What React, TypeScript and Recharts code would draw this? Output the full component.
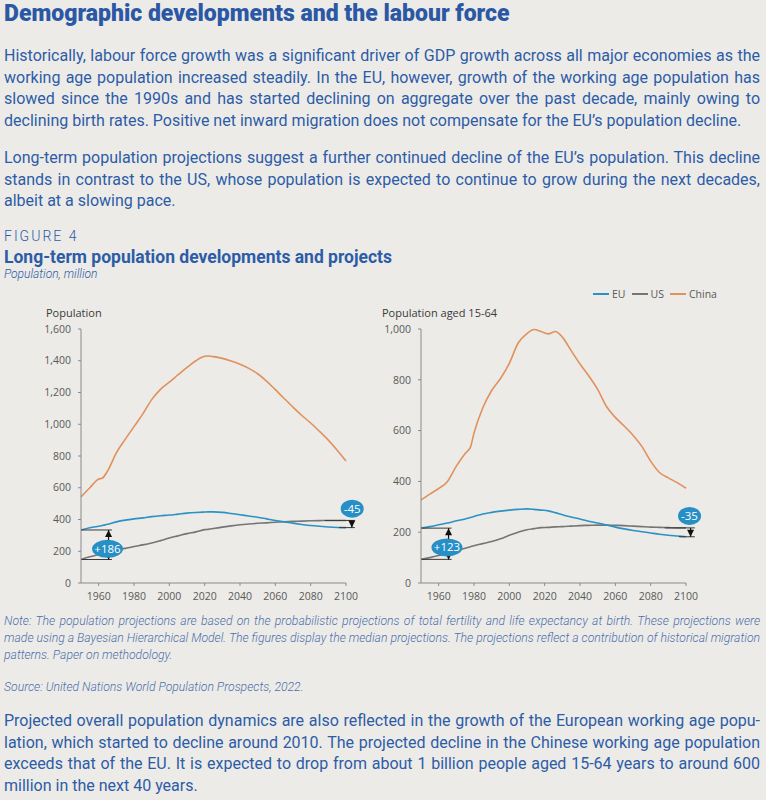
import React from "react";
import { LineChart, Line, XAxis, YAxis, ReferenceLine, ReferenceDot } from "recharts";

// total population, million
const yearsTotal = [1950, 1955, 1960, 1962, 1965, 1970, 1975, 1980, 1985, 1990, 1995, 2000, 2005, 2010, 2015, 2020, 2022, 2025, 2030, 2035, 2040, 2045, 2050, 2055, 2060, 2065, 2070, 2075, 2080, 2085, 2090, 2095, 2100];
const euTotal = [334, 348, 358, 362, 370, 385, 396, 404, 410, 418, 424, 428, 434, 440, 444, 447, 448, 448, 445, 438, 430, 422, 414, 404, 394, 385, 377, 369, 362, 357, 353, 350, 349];
const usTotal = [148, 165, 180, 186, 195, 208, 218, 230, 240, 252, 267, 283, 297, 311, 322, 336, 338, 343, 352, 360, 367, 372, 376, 379, 383, 386, 388, 390, 392, 393, 394, 394, 394];
const chinaTotal = [542, 600, 655, 660, 705, 820, 905, 985, 1065, 1155, 1220, 1265, 1312, 1358, 1400, 1428, 1430, 1426, 1415, 1398, 1378, 1352, 1318, 1272, 1218, 1162, 1108, 1055, 1008, 955, 900, 836, 768];

// population aged 15-64, million
const yearsWorking = [1950, 1955, 1960, 1965, 1970, 1975, 1978, 1980, 1985, 1990, 1995, 2000, 2005, 2010, 2014, 2018, 2022, 2026, 2030, 2035, 2040, 2045, 2050, 2055, 2060, 2065, 2070, 2075, 2080, 2085, 2090, 2095, 2100];
const euWorking = [216, 222, 229, 236, 245, 252, 258, 262, 272, 278, 283, 287, 290, 292, 290, 287, 284, 277, 269, 260, 252, 243, 236, 228, 220, 213, 207, 202, 197, 192, 188, 185, 182];
const usWorking = [93, 100, 108, 117, 127, 137, 143, 147, 155, 163, 174, 188, 200, 210, 214, 218, 219, 221, 222, 224, 226, 227, 228, 228, 227, 226, 224, 222, 220, 219, 218, 217, 217];
const chinaWorking = [327, 350, 372, 400, 460, 510, 535, 590, 690, 758, 805, 865, 945, 982, 998, 990, 981, 990, 968, 915, 862, 815, 762, 695, 652, 618, 582, 538, 480, 435, 414, 395, 373];

const xTicks = [1960, 1980, 2000, 2020, 2040, 2060, 2080, 2100];
const totalTicks = [0, 200, 400, 600, 800, 1000, 1200, 1400, 1600];
const workingTicks = [0, 200, 400, 600, 800, 1000];

// where the gap markers sit (year of arrow, badge year/value)
const totalMarks = { startArrow: 1965.6, startEnd: 1967.5, startBadge: [1965, 215], endArrow: 2103.3, endBadge: [2103.5, 468] };
const workingMarks = { startArrow: 1965.6, startEnd: 1967.3, startBadge: [1964.7, 140], endArrow: 2102.6, endBadge: [2102, 264] };

const BG = "#ecebe7";
const BLUE_TEXT = "#2d5ca7";
const EU_COLOR = "#2a92c4";
const US_COLOR = "#757575";
const CHINA_COLOR = "#e0915d";
const AXIS = "#8a8a8a";
const TICK_TEXT = "#595959";
const BADGE = "#2690c6";
const MARK = "#3a3a3a";

const fmt = (v: number) => v.toLocaleString("en-US");
const signed = (v: number) => (v > 0 ? `+${v}` : `${v}`);

function build(years: number[], eu: number[], us: number[], china: number[]) {
  return years.map((year, i) => ({ year, eu: eu[i], us: us[i], china: china[i] }));
}

const arrowShape = (both: boolean) => (p: any) => {
  const { x1, y1, x2, y2 } = p;
  const dir = y2 > y1 ? 1 : -1;
  return (
    <g>
      <line x1={x1} y1={y1} x2={x2} y2={y2} stroke="#111" strokeWidth={1.2} />
      <polygon points={`${x2},${y2} ${x2 - 3.5},${y2 - dir * 7} ${x2 + 3.5},${y2 - dir * 7}`} fill="#111" />
      {both && <polygon points={`${x1},${y1} ${x1 - 2.2},${y1 + dir * 4} ${x1 + 2.2},${y1 + dir * 4}`} fill="#111" />}
    </g>
  );
};

const badgeShape = (text: string) => (p: any) => {
  const rx = text.length > 3 ? 15.5 : 11.5;
  return (
    <g>
      <ellipse cx={p.cx} cy={p.cy} rx={rx} ry={9} fill={BADGE} />
      <text x={p.cx} y={p.cy} dy="0.35em" textAnchor="middle" fill="#fff" fontSize={11.5} fontFamily="'Open Sans', sans-serif">
        {text}
      </text>
    </g>
  );
};

type Marks = typeof totalMarks;

function Panel({
  data, ticks, yMax, yAxisWidth, right, marks, first, last,
}: {
  data: any[]; ticks: number[]; yMax: number; yAxisWidth: number; right: number;
  marks: Marks; first: { eu: number; us: number }; last: { eu: number; us: number };
}) {
  const tickStyle = { fontSize: 10.5, fill: TICK_TEXT, fontFamily: "'Open Sans', sans-serif" };
  return (
    <LineChart width={yAxisWidth + 265 + right} height={310} data={data} margin={{ top: 29, right, bottom: 7, left: 0 }}>
      <XAxis
        dataKey="year" type="number" domain={[1950, 2100]} ticks={xTicks} height={20}
        tick={tickStyle} tickSize={3} tickMargin={7} stroke={AXIS} tickLine={{ stroke: AXIS }}
      />
      <YAxis
        domain={[0, yMax]} ticks={ticks} width={yAxisWidth} tickFormatter={fmt}
        tick={tickStyle} tickSize={3} tickMargin={7} stroke={AXIS} tickLine={{ stroke: AXIS }} interval={0}
      />
      <Line dataKey="china" stroke={CHINA_COLOR} strokeWidth={1.6} dot={false} activeDot={false} type="monotone" isAnimationActive={false} />
      <Line dataKey="us" stroke={US_COLOR} strokeWidth={1.6} dot={false} activeDot={false} type="monotone" isAnimationActive={false} />
      <Line dataKey="eu" stroke={EU_COLOR} strokeWidth={1.6} dot={false} activeDot={false} type="monotone" isAnimationActive={false} />

      {/* gap at start */}
      <ReferenceLine segment={[{ x: 1950, y: first.eu }, { x: marks.startEnd, y: first.eu }]} stroke={MARK} strokeWidth={1} ifOverflow="visible" />
      <ReferenceLine segment={[{ x: 1950, y: first.us }, { x: marks.startEnd, y: first.us }]} stroke={MARK} strokeWidth={1} ifOverflow="visible" />
      <ReferenceLine
        segment={[{ x: marks.startArrow, y: first.us }, { x: marks.startArrow, y: first.eu }]}
        ifOverflow="visible" shape={arrowShape(true)}
      />
      <ReferenceDot x={marks.startBadge[0]} y={marks.startBadge[1]} r={10} ifOverflow="visible" shape={badgeShape(signed(first.eu - first.us))} />

      {/* gap at end */}
      <ReferenceLine segment={[{ x: 2088, y: last.us }, { x: 2105, y: last.us }]} stroke={MARK} strokeWidth={1} ifOverflow="visible" />
      <ReferenceLine segment={[{ x: 2096, y: last.eu }, { x: 2105, y: last.eu }]} stroke={MARK} strokeWidth={1} ifOverflow="visible" />
      <ReferenceLine
        segment={[{ x: marks.endArrow, y: last.us }, { x: marks.endArrow, y: last.eu }]}
        ifOverflow="visible" shape={arrowShape(false)}
      />
      <ReferenceDot x={marks.endBadge[0]} y={marks.endBadge[1]} r={10} ifOverflow="visible" shape={badgeShape(signed(last.eu - last.us))} />
    </LineChart>
  );
}

function Lines({ lines, top, size, lh, style }: { lines: string[]; top: number; size: number; lh: number; style?: React.CSSProperties }) {
  return (
    <div style={{ position: "absolute", left: 4, top, width: 756, fontSize: size, lineHeight: `${lh}px`, ...style }}>
      {lines.map((l, i) => (
        <div key={i} style={{ whiteSpace: "nowrap", textAlign: "justify", textAlignLast: i < lines.length - 1 ? "justify" : "left" }}>{l}</div>
      ))}
    </div>
  );
}

const para1 = [
  "Historically, labour force growth was a significant driver of GDP growth across all major economies as the",
  "working age population increased steadily. In the EU, however, growth of the working age population has",
  "slowed since the 1990s and has started declining on aggregate over the past decade, mainly owing to",
  "declining birth rates. Positive net inward migration does not compensate for the EU\u2019s population decline.",
];
const para2 = [
  "Long-term population projections suggest a further continued decline of the EU\u2019s population. This decline",
  "stands in contrast to the US, whose population is expected to continue to grow during the next decades,",
  "albeit at a slowing pace.",
];
const noteLines = [
  "Note: The population projections are based on the probabilistic projections of total fertility and life expectancy at birth. These projections were",
  "made using a Bayesian Hierarchical Model. The figures display the median projections. The projections reflect a contribution of historical migration",
  "patterns. Paper on methodology.",
];
const para3 = [
  "Projected overall population dynamics are also reflected in the growth of the European working age popu-",
  "lation, which started to decline around 2010. The projected decline in the Chinese working age population",
  "exceeds that of the EU. It is expected to drop from about 1 billion people aged 15-64 years to around 600",
  "million in the next 40 years.",
];

export default function App() {
  const totalData = build(yearsTotal, euTotal, usTotal, chinaTotal);
  const workingData = build(yearsWorking, euWorking, usWorking, chinaWorking);
  const n = yearsTotal.length - 1;
  const m = yearsWorking.length - 1;
  const body: React.CSSProperties = { color: BLUE_TEXT, fontFamily: "Roboto, sans-serif" };
  const small: React.CSSProperties = { position: "absolute", fontFamily: "'Open Sans', sans-serif", fontSize: 11, color: "#3a3a3a", lineHeight: "14px" };
  const noteStyle: React.CSSProperties = { fontStyle: "italic", fontWeight: 300, color: "#4d70ad" };

  return (
    <div style={{ position: "fixed", left: 0, top: 0, width: 766, height: 800, background: BG, overflow: "hidden", ...body }}>
      <div style={{ position: "absolute", left: 4, top: 0, fontSize: 23, fontWeight: 900, lineHeight: "28px", color: "#2b58a5" }}>
        Demographic developments and the labour force
      </div>
      <Lines lines={para1} top={45} size={16} lh={21.7} />
      <Lines lines={para2} top={147} size={16} lh={21.7} />
      <div style={{ position: "absolute", left: 4, top: 227, fontSize: 14, fontWeight: 300, letterSpacing: 2, lineHeight: "18px" }}>FIGURE 4</div>
      <div style={{ position: "absolute", left: 4, top: 246, fontSize: 17.5, fontWeight: 700, lineHeight: "22px" }}>Long-term population developments and projects</div>
      <div style={{ position: "absolute", left: 4, top: 267, fontSize: 12, lineHeight: "15px", ...noteStyle, color: BLUE_TEXT }}>Population, million</div>

      <div style={{ ...small, left: 46, top: 306 }}>Population</div>
      <div style={{ ...small, left: 382, top: 306 }}>Population aged 15-64</div>

      <div style={{ position: "absolute", left: 593, top: 287, display: "flex", alignItems: "center", fontFamily: "'Open Sans', sans-serif", fontSize: 10.5, color: TICK_TEXT, lineHeight: "14px" }}>
        {[["EU", EU_COLOR], ["US", US_COLOR], ["China", CHINA_COLOR]].map(([k, c]) => (
          <div key={k} style={{ display: "flex", alignItems: "center", marginRight: 6 }}>
            <div style={{ width: 16, height: 1.5, background: c, marginRight: 3 }} />
            <span>{k}</span>
          </div>
        ))}
      </div>

      <div style={{ position: "absolute", left: 0, top: 300 }}>
        <Panel data={totalData} ticks={totalTicks} yMax={1600} yAxisWidth={81} right={34} marks={totalMarks}
          first={{ eu: euTotal[0], us: usTotal[0] }} last={{ eu: euTotal[n], us: usTotal[n] }} />
      </div>
      <div style={{ position: "absolute", left: 370, top: 300 }}>
        <Panel data={workingData} ticks={workingTicks} yMax={1000} yAxisWidth={51} right={37} marks={workingMarks}
          first={{ eu: euWorking[0], us: usWorking[0] }} last={{ eu: euWorking[m], us: usWorking[m] }} />
      </div>

      <Lines lines={noteLines} top={613} size={12.2} lh={17} style={noteStyle} />
      <div style={{ position: "absolute", left: 4, top: 679, fontSize: 12.2, lineHeight: "16px", ...noteStyle }}>
        Source: United Nations World Population Prospects, 2022.
      </div>
      <Lines lines={para3} top={710} size={16} lh={21.7} />
    </div>
  );
}
